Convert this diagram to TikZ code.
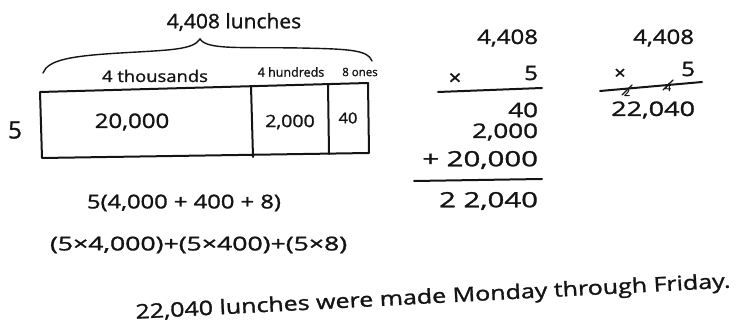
\documentclass[tikz,border=0pt]{standalone}
\usepackage{fontspec}
\setmainfont{Open Sans}[UprightFeatures={FakeBold=1.2}]
\tikzset{
  hw/.style={inner sep=0pt, outer sep=0pt, text=black!92},
  ink/.style={line width=2pt, line cap=round, line join=round, black!92},
  thin/.style={line width=1.4pt, line cap=round, black!92},
}
\newcommand{\hwt}[3]{\scalebox{#1}[1]{\fontsize{#2}{#2}\selectfont #3}}
\begin{document}
\begin{tikzpicture}[x=1pt,y=-1pt]
\useasboundingbox (0,0) rectangle (741,328);
\fill[white] (0,0) rectangle (741,328);
% title and brace
\node[hw] (title) at (234,22) {\hwt{1.05}{20}{4,408 lunches}};
\coordinate (bl) at (43,73);
\coordinate (bt) at (200,39);
\coordinate (br) at (372,61);
\draw[thin] (bl) .. controls (48,60) and (70,56) .. (120,53)
  .. controls (170,50) and (193,50) .. (bt)
  .. controls (207,50) and (240,47) .. (300,48)
  .. controls (350,49) and (368,50) .. (br);
% labels over box
\node[hw] (thou) at (155,76) {\hwt{1.15}{16}{4 thousands}};
\node[hw] (hund) at (291,72) {\hwt{1}{12.5}{4 hundreds}};
\node[hw] (ones) at (360,72) {\hwt{1}{11.5}{8 ones}};
% tape
\coordinate (tl) at (40,92);
\coordinate (tr) at (368,83);
\coordinate (rb) at (369,153);
\coordinate (lb) at (42,158);
\draw[ink] (tl) -- (tr) -- (rb) -- (lb) -- cycle;
\coordinate (d1t) at (251,86);
\coordinate (d1b) at (253,157);
\coordinate (d2t) at (328,84);
\coordinate (d2b) at (329,154);
\draw[ink] (d1t) -- (d1b);
\draw[ink] (d2t) -- (d2b);
\node[hw] (five) at (15,130) {\hwt{1}{24}{5}};
\node[hw] (c1) at (132,122) {\hwt{1.2}{20}{20,000}};
\node[hw] (c2) at (290,122) {\hwt{1.15}{17}{2,000}};
\node[hw] (c3) at (348,118) {\hwt{1.1}{15}{40}};
% expressions
\node[hw, anchor=west] (e1) at (87,203) {\hwt{1.25}{19}{5(4,000 + 400 + 8)}};
\node[hw, anchor=west] (e2) at (50,245) {\hwt{1.4}{19}{(5×4,000)+(5×400)+(5×8)}};
% sentence
\node[hw, rotate=3] (sent) at (433,298) {\hwt{1.25}{20}{22,040 lunches were made Monday through Friday.}};
% column 1
\node[hw, anchor=east] (a1) at (538,38) {\hwt{1.2}{20}{4,408}};
\node[hw] (ax) at (455,79) {\hwt{1.1}{20}{×}};
\node[hw, anchor=east] (a2) at (538,73) {\hwt{1.2}{20}{5}};
\coordinate (l1a) at (438,92);
\coordinate (l1b) at (542,88);
\draw[ink] (l1a) -- (l1b);
\node[hw, anchor=east] (p1) at (538,110) {\hwt{1.3}{20}{40}};
\node[hw, anchor=east] (p2) at (538,132) {\hwt{1.3}{20}{2,000}};
\node[hw, anchor=east] (p3) at (538,160) {\hwt{1.4}{21}{+ 20,000}};
\coordinate (l2a) at (414,181);
\coordinate (l2b) at (542,179);
\draw[ink] (l2a) -- (l2b);
\node[hw, anchor=east] (p4) at (538,201) {\hwt{1.4}{21}{2 2,040}};
% column 2
\node[hw, anchor=east] (b1) at (694,38) {\hwt{1.2}{20}{4,408}};
\node[hw, anchor=east] (b2) at (695,69) {\hwt{1.2}{20}{5}};
\node[hw] (bx) at (620,74) {\hwt{1.1}{18}{×}};
\coordinate (l3a) at (600,91);
\coordinate (l3b) at (702,82);
\draw[ink] (l3a) -- (l3b);
\node[hw] (k1) at (627,92) {\hwt{1}{11}{2}};
\node[hw] (k2) at (668,87) {\hwt{1}{11}{4}};
\draw[thin] (622,95) -- (632,85);
\draw[thin] (663,90) -- (673,80);
\node[hw, anchor=east] (b3) at (695,110) {\hwt{1.35}{20}{22,040}};
\end{tikzpicture}
\end{document}
